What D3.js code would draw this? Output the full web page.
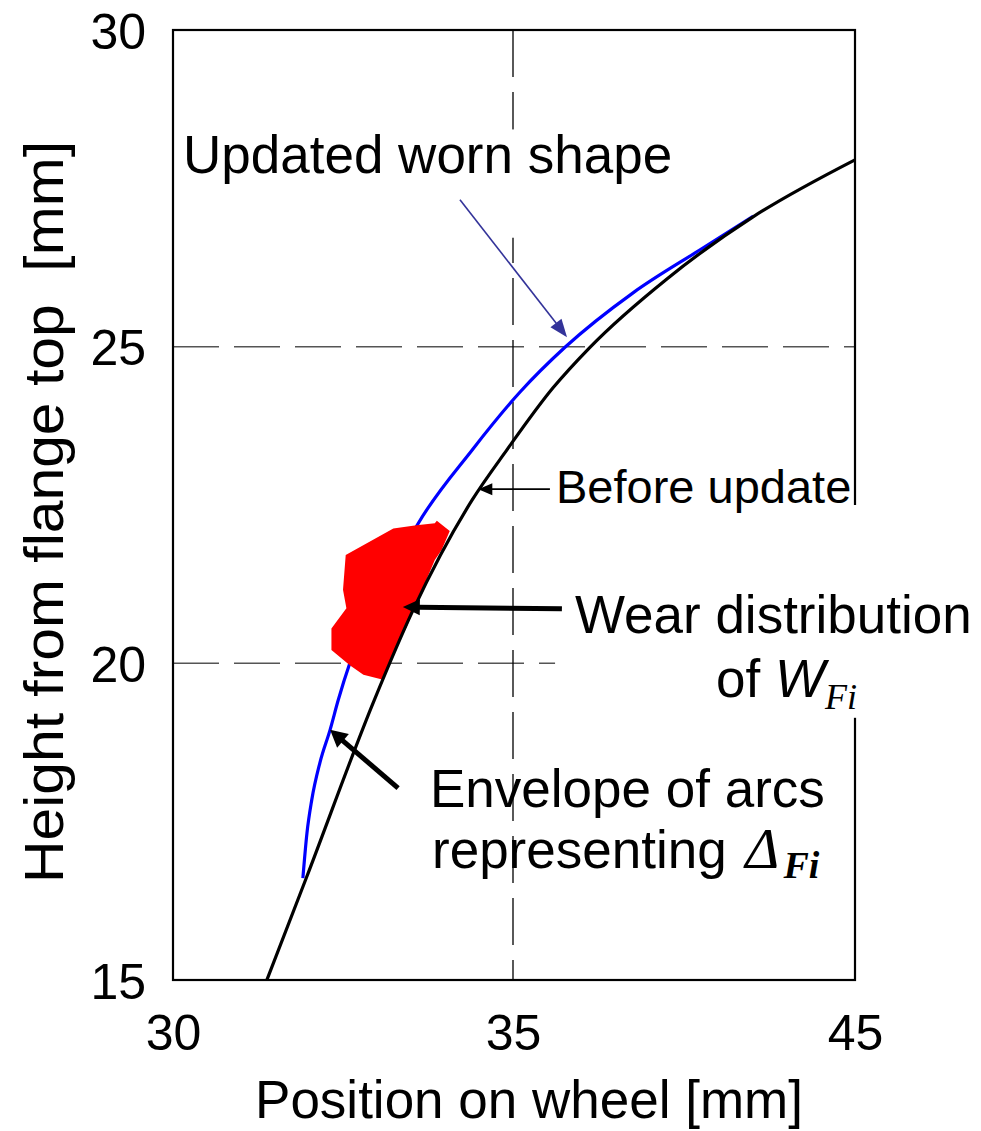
<!DOCTYPE html>
<html>
<head>
<meta charset="utf-8">
<script src="https://cdn.jsdelivr.net/npm/d3@7"></script>
<style>
  body { margin: 0; background: #fff; }
  text { font-family: "Liberation Sans", Arial, sans-serif; fill: #000; }
  .serif { font-family: "Liberation Serif", "Times New Roman", serif; }
</style>
</head>
<body>
<div id="chart"></div>
<script>
// axis ticks (the x axis is labelled 30 / 35 / 45, unevenly spaced)
var xTicks = [30, 35, 45];
var yTicks = [15, 20, 25, 30];
var gridX = [35];
var gridY = [20, 25];

// wheel profile before update
var beforeX = [31.38, 31.96, 32.96, 33.53, 34.40, 34.91, 36.17, 37.25, 39.50, 42.02, 45.00];
var beforeY = [15.00, 16.61, 19.42, 20.84, 22.58, 23.37, 24.35, 24.99, 26.07, 27.05, 27.95];

// updated worn shape
var wornX = [31.91, 31.97, 32.04, 32.16, 32.31, 32.43, 32.60, 33.09, 33.59, 34.40, 35.20, 36.52, 38.51, 40.47, 42.02];
var wornY = [16.61, 17.32, 17.84, 18.43, 18.95, 19.42, 20.00, 21.13, 22.18, 23.37, 24.28, 24.99, 25.85, 26.53, 27.06];

// outline of the wear distribution W_Fi
var wearX = [33.24, 33.58, 33.85, 33.88, 34.07, 33.95, 33.85, 33.58, 33.44, 33.24, 33.09, 32.80, 32.60, 32.33, 32.33, 32.55, 32.50, 32.54];
var wearY = [22.13, 22.18, 22.21, 22.25, 22.09, 21.79, 21.63, 20.95, 20.58, 20.16, 19.74, 19.82, 19.97, 20.21, 20.55, 20.87, 21.16, 21.71];

var width = 981, height = 1131,
    margin = {top: 30, right: 126, bottom: 151, left: 173},
    w = width - margin.left - margin.right,
    h = height - margin.top - margin.bottom;

var x = d3.scaleLinear().domain([30, 35, 45]).range([0, w / 2 - 1, w]);
var y = d3.scaleLinear().domain([15, 30]).range([h, 0]);

var svg = d3.select("#chart").append("svg")
    .attr("width", width)
    .attr("height", height);
var g = svg.append("g")
    .attr("transform", "translate(" + margin.left + "," + margin.top + ")");

function pts(xs, ys) {
  return xs.map(function(d, i) { return [d, ys[i]]; });
}

// grid lines
g.selectAll(".gy").data(gridY).enter().append("line")
    .attr("x1", 0).attr("x2", w)
    .attr("y1", function(d) { return y(d); })
    .attr("y2", function(d) { return y(d); })
    .attr("stroke", "#555").attr("stroke-width", 1.5)
    .attr("stroke-dasharray", "46,15");

g.selectAll(".gx").data(gridX).enter().append("line")
    .attr("y1", 0).attr("y2", h)
    .attr("x1", function(d) { return x(d); })
    .attr("x2", function(d) { return x(d); })
    .attr("stroke", "#000").attr("stroke-width", 1.3)
    .attr("stroke-dasharray", "47,15");

// curves
var line = d3.line()
    .x(function(d) { return x(d[0]); })
    .y(function(d) { return y(d[1]); })
    .curve(d3.curveMonotoneX);

g.append("path")
    .datum(pts(wornX, wornY))
    .attr("d", line)
    .attr("fill", "none")
    .attr("stroke", "#0000ff")
    .attr("stroke-width", 3.2);

g.append("path")
    .datum(pts(wearX, wearY))
    .attr("d", d3.line()
        .x(function(d) { return x(d[0]); })
        .y(function(d) { return y(d[1]); })
        .curve(d3.curveLinearClosed))
    .attr("fill", "#ff0000")
    .attr("stroke", "none");

g.append("path")
    .datum(pts(beforeX, beforeY))
    .attr("d", line)
    .attr("fill", "none")
    .attr("stroke", "#000")
    .attr("stroke-width", 3.2);

// frame
g.append("rect")
    .attr("width", w).attr("height", h)
    .attr("fill", "none")
    .attr("stroke", "#000")
    .attr("stroke-width", 2.2);

// axes
var xAxis = g.append("g")
    .attr("transform", "translate(0," + h + ")")
    .call(d3.axisBottom(x).tickValues(xTicks).tickSize(0).tickFormat(d3.format("d")));
xAxis.selectAll("text")
    .attr("y", 70).attr("dy", 0)
    .style("font-size", "50px");

var yAxis = g.append("g")
    .call(d3.axisLeft(y).tickValues(yTicks).tickSize(0).tickFormat(d3.format("d")));
yAxis.selectAll("text")
    .attr("x", -27).attr("dy", "0.36em")
    .style("font-size", "50px");

g.selectAll(".domain").remove();
g.selectAll(".tick line").remove();
g.selectAll(".tick text").attr("fill", "#000").style("font-family", "'Liberation Sans', Arial, sans-serif");

// axis titles
svg.append("text")
    .attr("x", 529)
    .attr("y", 1118)
    .attr("text-anchor", "middle")
    .style("font-size", "53px")
    .text("Position on wheel [mm]");

svg.append("text")
    .attr("transform", "translate(63,512) rotate(-90)")
    .attr("text-anchor", "middle")
    .attr("xml:space", "preserve")
    .attr("textLength", 742)
    .attr("lengthAdjust", "spacingAndGlyphs")
    .style("white-space", "pre")
    .style("font-size", "55px")
    .text("Height from flange top  [mm]");

// label boxes that hide the grid / frame behind them
g.append("rect")
    .attr("x", x(30.07)).attr("y", y(28.43))
    .attr("width", x(37.4) - x(30.07)).attr("height", y(26.72) - y(28.43))
    .attr("fill", "#fff");
g.append("rect")
    .attr("x", x(36.23)).attr("y", y(22.50))
    .attr("width", w + 30 - x(36.23)).attr("height", y(19.14) - y(22.50))
    .attr("fill", "#fff");

// annotations
function arrow(x1, y1, x2, y2, sw, len, half, color) {
  var X1 = x(x1), Y1 = y(y1), X2 = x(x2), Y2 = y(y2);
  var dx = X2 - X1, dy = Y2 - Y1, d = Math.sqrt(dx * dx + dy * dy);
  var ux = dx / d, uy = dy / d;
  var bx = X2 - ux * len, by = Y2 - uy * len;
  g.append("line")
      .attr("x1", X1).attr("y1", Y1)
      .attr("x2", bx + ux * 2).attr("y2", by + uy * 2)
      .attr("stroke", color).attr("stroke-width", sw);
  g.append("path")
      .attr("d", "M" + X2 + "," + Y2 +
          "L" + (bx - uy * half) + "," + (by + ux * half) +
          "L" + (bx + uy * half) + "," + (by - ux * half) + "Z")
      .attr("fill", color);
}

arrow(34.22, 27.32, 36.58, 25.15, 1.6, 18, 7, "#333399");
arrow(36.08, 22.75, 34.49, 22.75, 1.6, 14, 6, "#000");
arrow(36.43, 20.86, 33.38, 20.89, 5, 17, 8, "#000");
arrow(33.31, 18.03, 32.31, 18.95, 5, 17, 9, "#000");

svg.append("text")
    .attr("x", 183).attr("y", 173)
    .style("font-size", "53px")
    .text("Updated worn shape");

svg.append("text")
    .attr("x", 556).attr("y", 503)
    .style("font-size", "47px")
    .text("Before update");

svg.append("text")
    .attr("x", 575).attr("y", 633)
    .style("font-size", "53px")
    .text("Wear distribution");

var wf = svg.append("text")
    .attr("x", 857).attr("y", 697)
    .attr("text-anchor", "end")
    .style("font-size", "53px");
wf.append("tspan").text("of ");
wf.append("tspan").style("font-style", "italic").text("W");
wf.append("tspan").attr("class", "serif").attr("dy", 12)
    .style("font-style", "italic").style("font-size", "36px").text("Fi");

svg.append("text")
    .attr("x", 430).attr("y", 807)
    .style("font-size", "53px")
    .text("Envelope of arcs");

var rp = svg.append("text")
    .attr("x", 432).attr("y", 868)
    .style("font-size", "53px");
rp.append("tspan").text("representing ");
rp.append("tspan").attr("class", "serif").attr("dx", 4)
    .style("font-style", "italic").style("font-size", "58px").text("\u0394");
rp.append("tspan").attr("class", "serif").attr("dy", 10).attr("dx", 4)
    .style("font-style", "italic").style("font-weight", "bold")
    .style("font-size", "38px").text("Fi");
</script>
</body>
</html>
